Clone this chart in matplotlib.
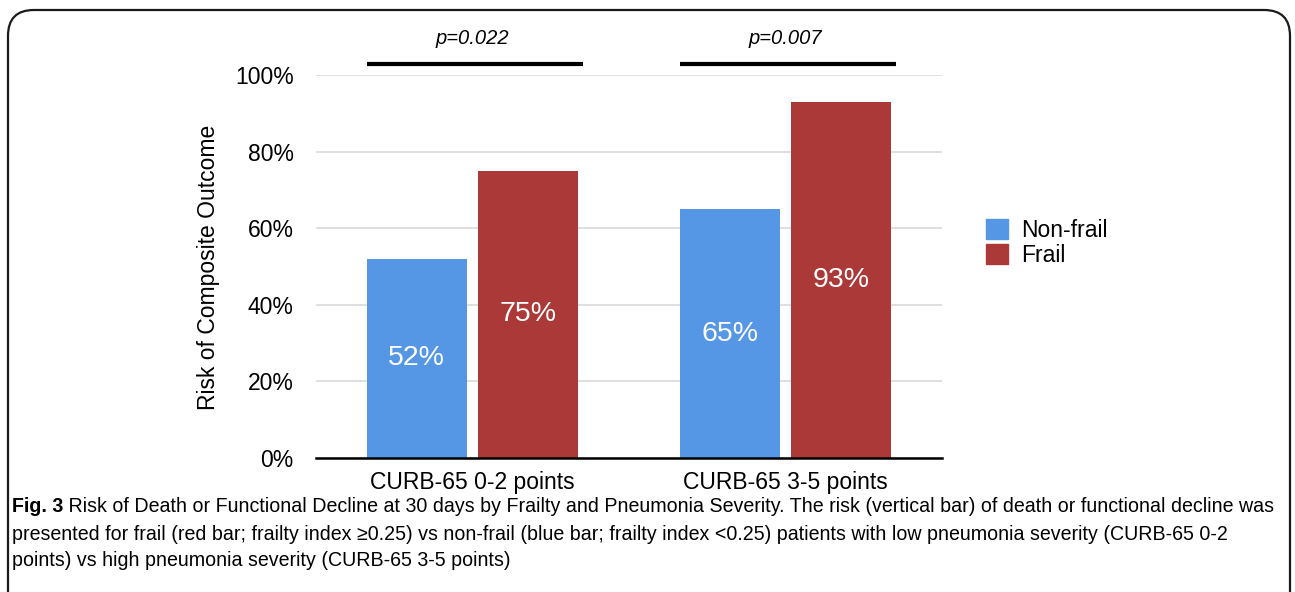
import matplotlib
matplotlib.use("Agg")
import matplotlib.pyplot as plt
from matplotlib import font_manager
from matplotlib.patches import FancyBboxPatch, Patch
import numpy as np

# data
groups = ["CURB-65 0-2 points", "CURB-65 3-5 points"]
series = ["Non-frail", "Frail"]
non_frail = [52, 65]
frail = [75, 93]
p_values = ["p=0.022", "p=0.007"]
y_ticks = [0, 20, 40, 60, 80, 100]

caption_bold = "Fig. 3"
caption_lines = [
    " Risk of Death or Functional Decline at 30 days by Frailty and Pneumonia Severity. The risk (vertical bar) of death or functional decline was",
    "presented for frail (red bar; frailty index \u22650.25) vs non-frail (blue bar; frailty index <0.25) patients with low pneumonia severity (CURB-65 0-2",
    "points) vs high pneumonia severity (CURB-65 3-5 points)",
]

blue = "#5596E5"
red = "#AA3937"

plt.rcParams["font.family"] = ["Liberation Sans", "DejaVu Sans"]
installed = {f.name for f in font_manager.fontManager.ttflist}
cap_font = "Liberation Sans Narrow" if "Liberation Sans Narrow" in installed else "Liberation Sans"

W, H = 1295, 592
fig = plt.figure(figsize=(W / 100, H / 100), dpi=100)

# rounded frame around figure + caption
frame = FancyBboxPatch((8 / W, -0.05), (1290 - 8) / W, 1 - 10 / H + 0.05,
                       boxstyle="round,pad=0,rounding_size=0.02",
                       transform=fig.transFigure, fill=False,
                       edgecolor="#1a1a1a", linewidth=1.6, mutation_aspect=W / H)
fig.patches.append(frame)

ax = fig.add_axes([316 / W, 1 - 458 / H, (942 - 316) / W, (458 - 75) / H])

x = np.arange(len(groups))
w = 0.32
off = 0.178
b1 = ax.bar(x - off, non_frail, w, color=blue, label=series[0], zorder=3)
b2 = ax.bar(x + off, frail, w, color=red, label=series[1], zorder=3)

ax.bar_label(b1, labels=[f"{v}%" for v in non_frail], label_type="center",
             color="white", fontsize=20.5)
ax.bar_label(b2, labels=[f"{v}%" for v in frail], label_type="center",
             color="white", fontsize=20.5)

ax.set_xlim(-0.5, 1.5)
ax.set_ylim(0, 100)
ax.set_yticks(y_ticks)
ax.set_yticklabels([f"{t}%" for t in y_ticks])
ax.set_xticks(x)
ax.set_xticklabels(groups)
ax.tick_params(axis="y", length=0, pad=16, labelsize=16.5)
ax.tick_params(axis="x", length=0, pad=9, labelsize=16.5)
ax.yaxis.grid(True, color="#dcdcdc", linewidth=1.3, zorder=0)
ax.set_axisbelow(True)
for s in ["top", "right", "left"]:
    ax.spines[s].set_visible(False)
ax.spines["bottom"].set_linewidth(1.8)
ax.spines["bottom"].set_zorder(4)

fig.text(208 / W, 1 - 267 / H, "Risk of Composite Outcome", rotation=90,
         ha="center", va="center", fontsize=16.5)

# significance brackets
for xi, p in zip(x, p_values):
    ax.plot([xi - off - w / 2, xi + off + w / 2 + 0.015], [103, 103],
            color="black", linewidth=3, clip_on=False, solid_capstyle="butt")
    ax.text(xi, 109.5, p, ha="center", va="center", fontsize=14.5,
            style="italic", clip_on=False)

leg = ax.legend(handles=[Patch(color=blue), Patch(color=red)], labels=series,
                loc="center left", bbox_to_anchor=(975 / W, 1 - 243 / H),
                bbox_transform=fig.transFigure, frameon=False, fontsize=16.5,
                handlelength=0.95, handleheight=0.95, handletextpad=0.55,
                labelspacing=0.08, borderpad=0)

# caption
renderer = fig.canvas.get_renderer()
cap_size = 14.1
t0 = fig.text(12 / W, 1 - 507 / H, caption_bold, fontsize=cap_size, fontweight="bold",
              family=cap_font, ha="left", va="center")
bb = t0.get_window_extent(renderer)
fig.text(bb.x1 / W, 1 - 507 / H, caption_lines[0], fontsize=cap_size,
         family=cap_font, ha="left", va="center")
fig.text(12 / W, 1 - 534 / H, caption_lines[1], fontsize=cap_size,
         family=cap_font, ha="left", va="center")
fig.text(12 / W, 1 - 561 / H, caption_lines[2], fontsize=cap_size,
         family=cap_font, ha="left", va="center")

fig.savefig("out.png", dpi=100)
